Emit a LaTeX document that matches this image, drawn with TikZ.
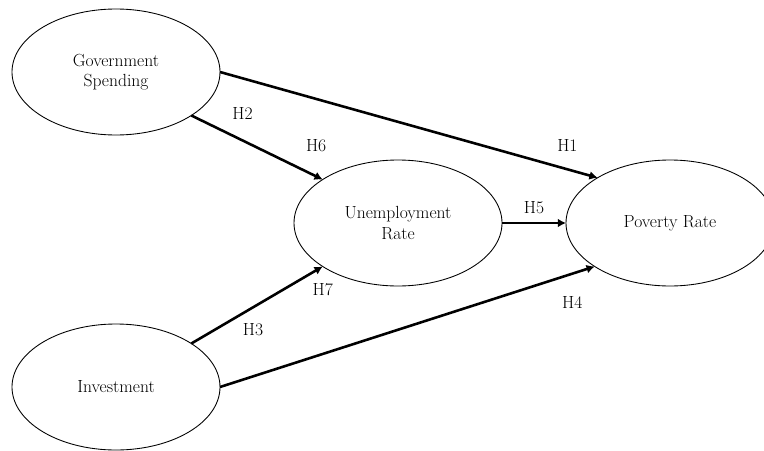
\documentclass[tikz,border=0pt]{standalone}
\usepackage{tikz}
\usetikzlibrary{arrows.meta,positioning,shapes.geometric}

\begin{document}
\begin{tikzpicture}[>={Latex[length=7pt,width=7.5pt]},x=0.03cm,y=-0.03cm]
\tikzstyle{varbox}=[draw,ellipse,line width=0.75pt,outer sep=0pt,minimum width=6.24cm,minimum height=3.78cm,align=center,font=\fontsize{15}{17.5}\selectfont]
\tikzstyle{path}=[->,line width=2.2pt]
\tikzstyle{hyp}=[font=\fontsize{15}{17.5}\selectfont,inner sep=1pt]
\useasboundingbox (0,0) rectangle (764,450);
\clip (0,0) rectangle (764,450);
\node[varbox] (gov) at (116,72) {Government\\Spending};
\node[varbox] (inv) at (116,387) {Investment};
\node[varbox] (unemp) at (398,223) {Unemployment\\Rate};
\node[varbox] (pov) at (670,223) {Poverty Rate};
\draw[path] (gov.east) -- node[hyp,pos=0.92,above=0.45cm]{H1} (pov.148);
\draw[path] (gov.-30) -- node[hyp,pos=0.39,above=0.55cm]{H2} node[hyp,pos=0.95,above=0.65cm]{H6} (unemp.150);
\draw[path] (inv.30) -- node[hyp,pos=0.47,below=0.4cm]{H3} node[hyp,pos=1,below=0.45cm]{H7} (unemp.210);
\draw[path] (inv.east) -- node[hyp,pos=0.94,below=0.6cm]{H4} (pov.210);
\draw[path] (unemp) -- node[hyp,above=0.2cm]{H5} (pov);
\end{tikzpicture}
\end{document}
